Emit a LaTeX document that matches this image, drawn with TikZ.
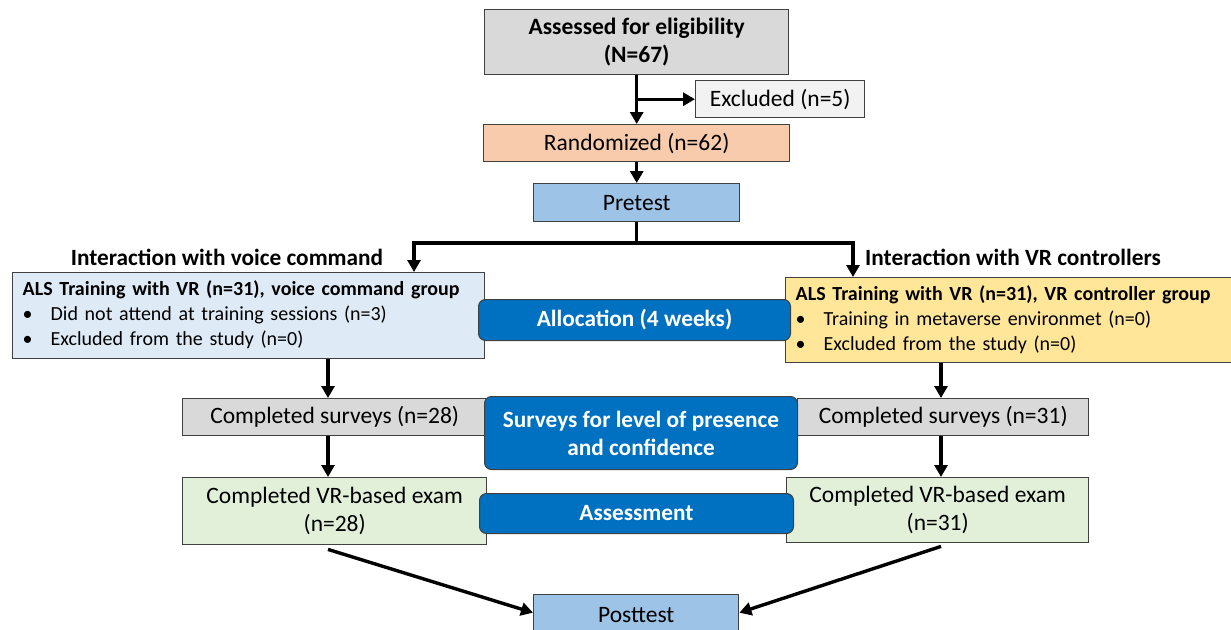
\documentclass[tikz,border=0pt]{standalone}
\usepackage{fontspec}
\setmainfont{Carlito}
\usetikzlibrary{arrows.meta}
\definecolor{cgray}{HTML}{D9D9D9}
\definecolor{clight}{HTML}{F2F2F2}
\definecolor{corange}{HTML}{F8CBAD}
\definecolor{cblue}{HTML}{9DC3E6}
\definecolor{cpale}{HTML}{DEEBF7}
\definecolor{cyellow}{HTML}{FFE699}
\definecolor{cgreen}{HTML}{E2F0D9}
\definecolor{cdark}{HTML}{0070C0}
\definecolor{cedge}{HTML}{404040}
\begin{document}
\begin{tikzpicture}[x=1pt,y=-1pt,
  box/.style={draw=cedge, line width=1.4pt, inner sep=0pt, anchor=north west, align=center,
    font=\fontsize{23.5}{28}\selectfont},
  listbox/.style={draw=cedge, line width=1.4pt, inner xsep=10pt, inner ysep=0pt, anchor=north west, align=left,
    font=\fontsize{20}{25}\selectfont},
  bluebox/.style={draw=cedge, line width=1pt, fill=cdark, rounded corners=7pt, text=white, inner sep=0pt,
    anchor=north west, align=center, font=\bfseries\fontsize{23.3}{28}\selectfont},
  head/.style={font=\bfseries\fontsize{23.3}{25}\selectfont, inner sep=0pt},
  arr/.style={line width=3.4pt, -{Triangle[length=12pt,width=13pt]}}]
\useasboundingbox (0,0) rectangle (1231,629);
% top column
\node[box, fill=cgray, minimum width=304pt, minimum height=65pt] (assess) at (484,9)
  {\textbf{Assessed for eligibility}\\\textbf{(N=67)}};
\node[box, fill=clight, minimum width=169pt, minimum height=37pt] (excl) at (695,80) {Excluded (n=5)};
\node[box, fill=corange, minimum width=306pt, minimum height=37pt] (rand) at (483,124) {Randomized (n=62)};
\node[box, fill=cblue, minimum width=206pt, minimum height=38pt] (pre) at (533,183) {Pretest};
% group headers
\node[head, anchor=center] (hl) at (227,257) {Interaction with voice command};
\node[head, anchor=west] (hr) at (865,257) {Interaction with VR controllers};
% group boxes
\node[listbox, fill=cpale, text width=452pt, minimum height=86pt] (lbox) at (12,272)
  {\begin{tabular}{@{}l@{}}\textbf{ALS Training with VR (n=31), voice command group}\\
   \makebox[28pt][l]{\textbullet}Did not attend at training sessions (n=3)\\
   \makebox[28pt][l]{\textbullet}Excluded from the study (n=0)\end{tabular}};
\node[listbox, fill=cyellow, text width=428pt, minimum height=85pt] (rbox) at (785,277)
  {\begin{tabular}{@{}l@{}}\textbf{ALS Training with VR (n=31), VR controller group}\\
   \makebox[28pt][l]{\textbullet}Training in metaverse environmet (n=0)\\
   \makebox[28pt][l]{\textbullet}Excluded from the study (n=0)\end{tabular}};
% surveys
\node[box, fill=cgray, minimum width=304pt, minimum height=37pt] (lsurv) at (182,398) {Completed surveys (n=28)};
\node[box, fill=cgray, minimum width=291pt, minimum height=37pt] (rsurv) at (797,398) {Completed surveys (n=31)};
% exams
\node[box, fill=cgreen, minimum width=304pt, minimum height=67pt] (lexam) at (182,477) {Completed VR-based exam\\(n=28)};
\node[box, fill=cgreen, minimum width=302pt, minimum height=65pt] (rexam) at (786,477) {Completed VR-based exam\\(n=31)};
% posttest
\node[box, fill=cblue, minimum width=205pt, minimum height=40pt] (post) at (533,594) {Posttest};
% blue overlays
\node[bluebox, minimum width=312pt, minimum height=41pt] (alloc) at (478,299) {Allocation (4 weeks)};
\node[bluebox, minimum width=313pt, minimum height=73pt] (surv) at (484,396) {Surveys for level of presence\\and confidence};
\node[bluebox, minimum width=314pt, minimum height=40pt] (asmt) at (479,493) {Assessment};
% connectors
\coordinate (lx) at (328,0);
\coordinate (rx) at (941,0);
\coordinate (sl) at (414,243);
\coordinate (sr) at (853,243);
\draw[arr] (assess.south) -- (rand.north);
\draw[arr] (assess.south |- excl.west) -- (excl.west);
\draw[arr] (rand.south) -- (pre.north);
\draw[arr] (pre.south) |- (sl) -- (sl |- lbox.north);
\draw[arr] (pre.south) |- (sr) -- (sr |- rbox.north);
\draw[arr] (lbox.south -| lx) -- (lsurv.north -| lx);
\draw[arr] (rbox.south -| rx) -- (rsurv.north -| rx);
\draw[arr] (lsurv.south -| lx) -- (lexam.north -| lx);
\draw[arr] (rsurv.south -| rx) -- (rexam.north -| rx);
\draw[arr] ([yshift=-4pt]lexam.south -| lx) -- ([yshift=2pt]post.west);
\draw[arr] ([yshift=-3pt]rexam.south -| rx) -- ([yshift=2pt]post.east);
\end{tikzpicture}
\end{document}
